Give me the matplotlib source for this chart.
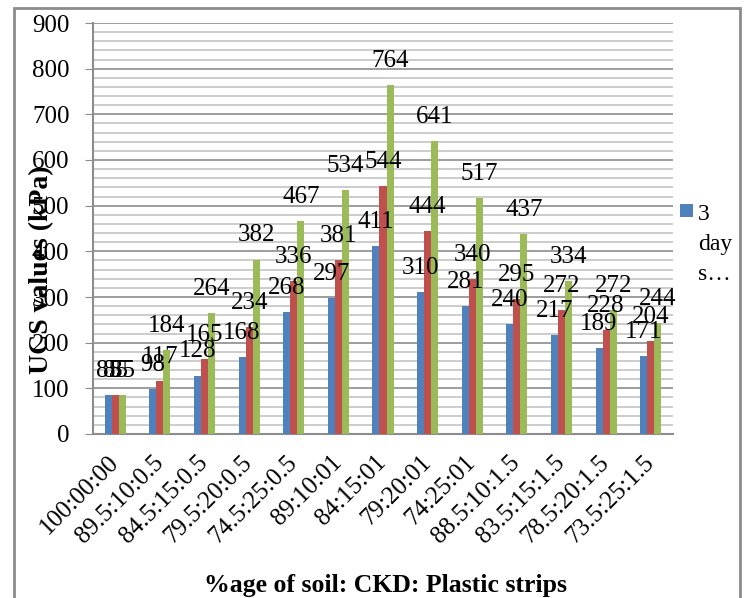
import numpy as np
import matplotlib
matplotlib.use('Agg')
import matplotlib.pyplot as plt
from matplotlib.patches import Rectangle
from matplotlib.ticker import MultipleLocator

plt.rcParams['font.family'] = ['Liberation Serif', 'DejaVu Serif']

mixes = ['100:00:00', '89.5:10:0.5', '84.5:15:0.5', '79.5:20:0.5',
         '74.5:25:0.5', '89:10:01', '84:15:01', '79:20:01', '74:25:01',
         '88.5:10:1.5', '83.5:15:1.5', '78.5:20:1.5', '73.5:25:1.5']

ucs_3d = [85, 98, 128, 168, 268, 297, 411, 310, 281, 240, 217, 189, 171]
ucs_7d = [85, 117, 165, 234, 336, 381, 544, 444, 340, 295, 272, 228, 204]
ucs_28d = [85, 184, 264, 382, 467, 534, 764, 641, 517, 437, 334, 272, 244]

series = [('3 days', ucs_3d, '#4F81BD'),
          ('7 days', ucs_7d, '#C0504D'),
          ('28 days', ucs_28d, '#9BBB59')]

fig = plt.figure(figsize=(7.45, 5.98), dpi=100)
ax = fig.add_axes([93 / 745, 1 - 434 / 598, 580 / 745, 411 / 598])

x = np.arange(len(mixes))
w = 0.158
for i, (name, vals, col) in enumerate(series):
    pos = x + (i - 1) * w
    ax.bar(pos, vals, width=w, color=col, label=name, zorder=3)
    for xp, v in zip(pos, vals):
        ax.annotate(str(v), (xp, v), xytext=(0, 13), textcoords='offset points',
                    ha='center', va='baseline', fontsize=18, zorder=4)

ax.set_xlim(-0.5, len(mixes) - 0.5)
ax.set_ylim(0, 900)
ax.yaxis.set_major_locator(MultipleLocator(100))
ax.yaxis.set_minor_locator(MultipleLocator(20))
ax.grid(True, axis='y', which='major', color='#8c8c8c', lw=1.2, zorder=0)
ax.grid(True, axis='y', which='minor', color='#c4c4c4', lw=1.2, zorder=0)

for s in ['top', 'right']:
    ax.spines[s].set_visible(False)
for s in ['left', 'bottom']:
    ax.spines[s].set_color('#8c8c8c')
    ax.spines[s].set_linewidth(1.5)

ax.tick_params(axis='y', which='major', length=6, color='#8c8c8c',
               labelsize=18, pad=11)
ax.tick_params(axis='y', which='minor', length=0)
ax.tick_params(axis='x', length=0, pad=18)
ax.set_xticks(x)
ax.set_xticklabels(mixes, rotation=45, ha='right', va='center',
                   rotation_mode='anchor', fontsize=18)

fig.text(42 / 745, 1 - 270 / 598, 'UCS values (kPa)', rotation=90,
         ha='center', va='center', fontsize=20, fontweight='bold')
fig.text(385 / 745, 1 - 592 / 598, '%age of soil: CKD: Plastic strips',
         ha='center', va='baseline', fontsize=18.5, fontweight='bold')

# legend (only the first entry fits)
fig.patches.append(Rectangle((680 / 745, 1 - 217 / 598), 13 / 745, 13 / 598,
                             transform=fig.transFigure,
                             facecolor='#4F81BD', edgecolor='none'))
fig.text(698 / 745, 1 - 220 / 598, '3', ha='left', va='baseline', fontsize=17)
fig.text(698 / 745, 1 - 250 / 598, 'day', ha='left', va='baseline', fontsize=17)
fig.text(698 / 745, 1 - 280 / 598, 's\u2026', ha='left', va='baseline',
         fontsize=17)

# chart border
fig.patches.append(Rectangle((14 / 745, -0.02), 726 / 745, 1.02 - 8 / 598,
                             transform=fig.transFigure, fill=False,
                             edgecolor='#8c8c8c', lw=2))

fig.savefig('out.png', dpi=100)
